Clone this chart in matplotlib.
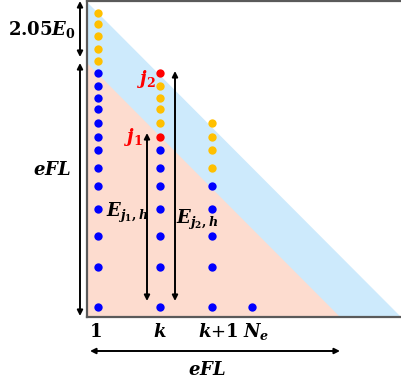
import matplotlib
matplotlib.use("Agg")
import matplotlib.pyplot as plt
from matplotlib.patches import Polygon

plt.rcParams['mathtext.fontset'] = 'custom'
plt.rcParams['mathtext.rm'] = 'DejaVu Serif:bold'
plt.rcParams['mathtext.it'] = 'DejaVu Serif:italic:bold'
plt.rcParams['mathtext.bf'] = 'DejaVu Serif:bold'

# Column positions (x) and level energies (y) in picture units
col_x = {"1": 11, "k": 73, "k+1": 125, "Ne": 165}
col1_orange = [304, 293, 281, 268, 256]
col1_blue = [244, 231, 219, 208, 194, 180, 167, 149, 131, 108, 81, 50, 10]
colk_red = [244, 180]
colk_orange = [231, 219, 208, 194]
colk_blue = [167, 149, 131, 108, 81, 50, 10]
colk1_orange = [194, 180, 167, 149]
colk1_blue = [131, 108, 81, 50, 10]
colNe_blue = [10]

tick_labels = ["$1$", "$k$", "$k$+$1$", "$N_e$"]
tick_x = [8, 73, 131, 169]

band_top = 315      # top of blue band at left edge
band_right = 314    # blue band hits bottom
efl = 254           # pink triangle height (eFL)

fig = plt.figure(figsize=(4.01, 3.83), dpi=100)
ax = fig.add_axes([87/401, 66/383, 314/401, 316/383])
ax.set_xlim(0, 314)
ax.set_ylim(0, 316)
ax.set_xticks([]); ax.set_yticks([])
for s in ['left', 'top', 'bottom']:
    ax.spines[s].set_color('#5a5a5a')
    ax.spines[s].set_linewidth(1.6)
ax.spines['right'].set_visible(False)

ax.add_patch(Polygon([(0, 0), (0, band_top), (band_right, 0)], closed=True,
                     facecolor='#cdeafc', edgecolor='none', zorder=1))
ax.add_patch(Polygon([(0, 0), (0, efl), (efl - 1, 0)], closed=True,
                     facecolor='#fddccf', edgecolor='none', zorder=2))

ms = 36
def dots(x, ys, c):
    ax.scatter([x]*len(ys), ys, s=ms, color=c, zorder=5, linewidths=0)

dots(col_x["1"], col1_orange, '#ffc000')
dots(col_x["1"], col1_blue, '#0000ff')
dots(col_x["k"], colk_red, '#ff0000')
dots(col_x["k"], colk_orange, '#ffc000')
dots(col_x["k"], colk_blue, '#0000ff')
dots(col_x["k+1"], colk1_orange, '#ffc000')
dots(col_x["k+1"], colk1_blue, '#0000ff')
dots(col_x["Ne"], colNe_blue, '#0000ff')

def darrow(x0, y0, x1, y1):
    ax.annotate('', xy=(x1, y1), xytext=(x0, y0),
                arrowprops=dict(arrowstyle='<|-|>', color='black', lw=1.4,
                                mutation_scale=8, shrinkA=0, shrinkB=0),
                annotation_clip=False, zorder=6)

# left arrows
darrow(-7, 260, -7, 316)
darrow(-7, 1, -7, 254)
# inner arrows
darrow(60, 16, 60, 184)
darrow(88, 16, 88, 246)
# bottom arrow
darrow(3, -34, 253, -34)

fs = 13
ax.text(-45, 287, r'$2.05E_0$', fontsize=fs, ha='center', va='center', clip_on=False)
ax.text(-35, 147, r'$eFL$', fontsize=fs, ha='center', va='center', clip_on=False)
ax.text(120, -53, r'$eFL$', fontsize=fs, ha='center', va='center', clip_on=False)
ax.text(60, 238, r'$j_2$', fontsize=fs, ha='center', va='center', color='#ff0000', zorder=7)
ax.text(47, 180, r'$j_1$', fontsize=fs, ha='center', va='center', color='#ff0000', zorder=7)
ax.text(19, 104, r'$E_{j_1,h}$', fontsize=fs, ha='left', va='center', zorder=7)
ax.text(89, 97, r'$E_{j_2,h}$', fontsize=fs, ha='left', va='center', zorder=7)
for lab, x in zip(tick_labels, tick_x):
    ax.text(x, -15, lab, fontsize=fs, ha='center', va='center', clip_on=False)

fig.savefig('out.png', dpi=100)
